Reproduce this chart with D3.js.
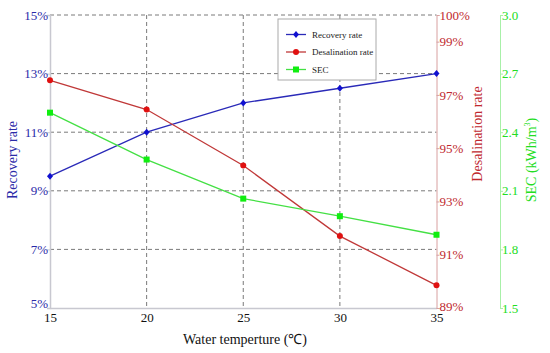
<!DOCTYPE html>
<html>
<head>
<meta charset="utf-8">
<script src="https://cdn.jsdelivr.net/npm/d3@7"></script>
<style>
body { margin: 0; background: #fff; }
</style>
</head>
<body>
<svg width="550" height="353" font-family="'Liberation Serif', 'Times New Roman', Times, serif"></svg>
<script>
var svg = d3.select('svg');
var serif = "'Liberation Serif', 'Times New Roman', Times, serif";

// data
var temps = [15, 20, 25, 30, 35];
var recoveryRate = [9.5, 11.0, 12.0, 12.5, 13.0];
var desalRate = [97.55, 96.45, 94.35, 91.7, 89.85];
var secValues = [2.50, 2.26, 2.06, 1.97, 1.875];

var leftTicks = [5, 7, 9, 11, 13, 15];
var redTicks = [89, 91, 93, 95, 97, 99, 100];
var greenTicks = [1.5, 1.8, 2.1, 2.4, 2.7, 3.0];

var plot = {l: 50, r: 436.5, t: 15, b: 308};

var xScale = d3.scaleLinear().domain([15, 35]).range([plot.l, plot.r]);
var yLeft = d3.scaleLinear().domain([5, 15]).range([plot.b, plot.t]);
var yRed = d3.scaleLinear().domain([89, 100]).range([plot.b, plot.t]);
var yGreen = d3.scaleLinear().domain([1.5, 3.0]).range([plot.b, plot.t]);

var blue = '#2a2aa8', red = '#c0282e', green = '#22dd22';

// grid lines
var gridG = svg.append('g');
gridG.selectAll('.hgrid')
    .data(leftTicks.slice(1))
    .enter()
    .append('line')
    .attr('x1', plot.l).attr('x2', plot.r)
    .attr('y1', function(d) { return yLeft(d); })
    .attr('y2', function(d) { return yLeft(d); })
    .attr('stroke', '#7a7a7a')
    .attr('stroke-dasharray', '4,3');
gridG.selectAll('.vgrid')
    .data([20, 25, 30])
    .enter()
    .append('line')
    .attr('y1', plot.t).attr('y2', plot.b)
    .attr('x1', function(d) { return xScale(d); })
    .attr('x2', function(d) { return xScale(d); })
    .attr('stroke', '#7a7a7a')
    .attr('stroke-dasharray', '4,3');

// left axis
var leftAxis = svg.append('g')
    .attr('transform', 'translate(' + plot.l + ',0)')
    .call(d3.axisLeft(yLeft).tickValues(leftTicks).tickSize(3).tickFormat(function(d) { return d + '%'; }))
    .attr('font-family', serif);
leftAxis.select('.domain').attr('stroke', '#c8c8d0').attr('stroke-width', 1.5);
leftAxis.selectAll('.tick line').attr('stroke', '#c8c8d0');
leftAxis.selectAll('.tick text').attr('fill', blue).attr('font-size', 13).attr('x', -2)
    .attr('y', function(d) { return d === 5 ? -5 : 0; });

// bottom axis
var bottomAxis = svg.append('g')
    .attr('transform', 'translate(0,' + plot.b + ')')
    .call(d3.axisBottom(xScale).tickValues(temps).tickSize(0))
    .attr('font-family', serif);
bottomAxis.select('.domain').attr('stroke', '#c8c8d0').attr('stroke-width', 1.5);
bottomAxis.selectAll('.tick text').attr('fill', '#111').attr('font-size', 13).attr('y', 14).attr('dy', 0);

// red (desalination) axis
var redAxis = svg.append('g')
    .attr('transform', 'translate(' + plot.r + ',0)')
    .call(d3.axisRight(yRed).tickValues(redTicks).tickSize(3).tickFormat(function(d) { return d + '%'; }))
    .attr('font-family', serif);
redAxis.select('.domain').attr('stroke', '#d8a0a0');
redAxis.selectAll('.tick line').attr('stroke', '#d8a0a0');
redAxis.selectAll('.tick text').attr('fill', red).attr('font-size', 13).attr('x', 3)
    .attr('y', function(d) { return d === 89 ? -2 : 0; });

// green (SEC) axis
var greenAxis = svg.append('g')
    .attr('transform', 'translate(500,0)')
    .call(d3.axisRight(yGreen).tickValues(greenTicks).tickSize(3).tickFormat(d3.format('.1f')))
    .attr('font-family', serif);
greenAxis.select('.domain').attr('stroke', '#a8f0a8');
greenAxis.selectAll('.tick line').attr('stroke', '#a8f0a8');
greenAxis.selectAll('.tick text').attr('fill', green).attr('font-size', 13).attr('x', 2);

// axis titles
svg.append('text')
    .attr('transform', 'translate(17,160)rotate(-90)')
    .attr('text-anchor', 'middle')
    .attr('fill', blue)
    .attr('font-size', 14)
    .text('Recovery rate');
svg.append('text')
    .attr('transform', 'translate(482,134)rotate(-90)')
    .attr('text-anchor', 'middle')
    .attr('fill', red)
    .attr('font-size', 14)
    .text('Desalination rate');
var secTitle = svg.append('text')
    .attr('transform', 'translate(536,160)rotate(-90)')
    .attr('text-anchor', 'middle')
    .attr('fill', green)
    .attr('font-size', 14);
secTitle.append('tspan').text('SEC (kWh/m');
secTitle.append('tspan').attr('font-size', 8).attr('dy', -6).text('3');
secTitle.append('tspan').attr('dy', 6).text(')');
svg.append('text')
    .attr('x', 245).attr('y', 344)
    .attr('text-anchor', 'middle')
    .attr('fill', '#111')
    .attr('font-size', 14)
    .text('Water temperture (\u2103)');

// series
var series = [
    {name: 'Recovery rate', values: recoveryRate, scale: yLeft, line: '#2a2ab8', mark: '#1010d0', shape: 'diamond'},
    {name: 'Desalination rate', values: desalRate, scale: yRed, line: '#c03838', mark: '#e01010', shape: 'circle'},
    {name: 'SEC', values: secValues, scale: yGreen, line: '#44e044', mark: '#10ee10', shape: 'square'}
];

function drawMarker(g, shape, color, x, y) {
    if (shape === 'diamond') {
        g.append('path')
            .attr('d', 'M' + x + ',' + (y - 3.5) + 'L' + (x + 3) + ',' + y + 'L' + x + ',' + (y + 3.5) + 'L' + (x - 3) + ',' + y + 'Z')
            .attr('fill', color);
    } else if (shape === 'circle') {
        g.append('circle').attr('cx', x).attr('cy', y).attr('r', 3).attr('fill', color);
    } else {
        g.append('rect').attr('x', x - 3).attr('y', y - 3).attr('width', 6).attr('height', 6).attr('fill', color);
    }
}

series.forEach(function(s) {
    var line = d3.line()
        .x(function(d, i) { return xScale(temps[i]); })
        .y(function(d) { return s.scale(d); });
    var g = svg.append('g');
    g.append('path')
        .datum(s.values)
        .attr('d', line)
        .attr('fill', 'none')
        .attr('stroke', s.line)
        .attr('stroke-width', 1.3);
    s.values.forEach(function(v, i) {
        drawMarker(g, s.shape, s.mark, xScale(temps[i]), s.scale(v));
    });
});

// legend
var legend = svg.append('g').attr('transform', 'translate(278,19)');
legend.append('rect')
    .attr('width', 98).attr('height', 61)
    .attr('fill', '#fff')
    .attr('stroke', '#aaa');
series.forEach(function(s, i) {
    var y = 15.5 + i * 17.5;
    legend.append('line')
        .attr('x1', 8).attr('x2', 28)
        .attr('y1', y).attr('y2', y)
        .attr('stroke', s.line)
        .attr('stroke-width', 1.3);
    drawMarker(legend, s.shape, s.mark, 18, y);
    legend.append('text')
        .attr('x', 34).attr('y', y + 3)
        .attr('font-size', 9)
        .attr('fill', '#222')
        .text(s.name);
});
</script>
</body>
</html>
